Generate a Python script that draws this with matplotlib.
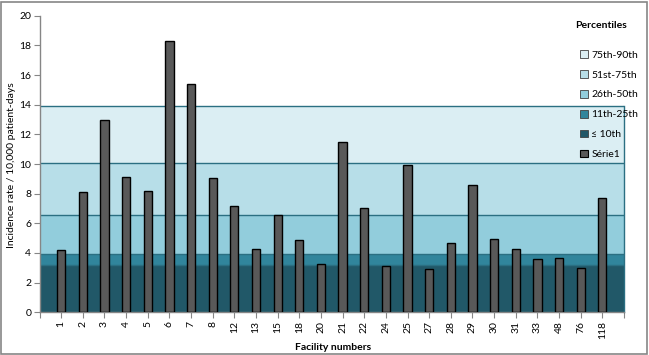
import matplotlib
matplotlib.use("Agg")
import matplotlib.pyplot as plt
from matplotlib.patches import Patch, Rectangle

plt.rcParams['font.family'] = ['Lato', 'DejaVu Sans']

facilities = ['1', '2', '3', '4', '5', '6', '7', '8', '12', '13', '15', '18', '20',
              '21', '22', '24', '25', '27', '28', '29', '30', '31', '33', '48', '76', '118']
rates = [4.18, 8.09, 12.95, 9.10, 8.16, 18.27, 15.37, 9.03, 7.15, 4.25, 6.54, 4.90, 3.24,
         11.46, 7.01, 3.10, 9.93, 2.92, 4.65, 8.56, 4.92, 4.25, 3.57, 3.64, 2.97, 7.69]

band_labels = ['≤ 10th', '11th-25th', '26th-50th', '51st-75th', '75th-90th']
band_tops = [3.2, 3.95, 6.55, 10.1, 13.9]
band_colors = ['#215868', '#31859c', '#92cddc', '#b7dee8', '#dbeef3']
edge_color = '#2b6f82'
bar_color = '#595959'

W, H = 649, 355
fig = plt.figure(figsize=(W / 100, H / 100), dpi=100)
ax = fig.add_axes([39.5 / W, 1 - 312.3 / H, (624 - 39.5) / W, (312.3 - 15.7) / H])

n = len(facilities)
xs = list(range(1, n + 1))
xmax = n + 1

# percentile bands
prev = 0
for top, col in zip(band_tops, band_colors):
    ax.fill_between([0, xmax], prev, top, color=col, lw=0, zorder=1)
    ax.plot([0, xmax], [top, top], color=edge_color, lw=1.0, zorder=2)
    prev = top
ax.plot([xmax, xmax], [0, band_tops[-1]], color=edge_color, lw=1.0, zorder=2, clip_on=False)

ax.bar(xs, rates, width=0.38, color=bar_color, edgecolor='black', linewidth=1.0, zorder=3)

ax.set_xlim(0, xmax)
ax.set_ylim(0, 20)
ax.set_yticks(range(0, 21, 2))
ax.set_xticks(list(range(0, xmax + 1)))
ax.set_xticklabels([''] + facilities + [''], rotation=90, fontsize=7.5)
ax.tick_params(axis='y', labelsize=7.5, length=4, color='#868686', pad=2)
ax.tick_params(axis='x', length=4, color='#868686', pad=2)
for s in ['top', 'right']:
    ax.spines[s].set_visible(False)
for s in ['left', 'bottom']:
    ax.spines[s].set_color('#868686')
    ax.spines[s].set_linewidth(1.0)
ax.patch.set_alpha(0)

fig.text(12 / W, 1 - 165 / H, 'Incidence rate / 10,000 patient-days', rotation=90,
         ha='center', va='center', fontsize=7.5)
fig.text(333 / W, 1 - 347 / H, 'Facility numbers', ha='center', va='center',
         fontsize=7.5, fontweight='bold')

fig.text(601.5 / W, 1 - 25.7 / H, 'Percentiles', ha='center', va='center',
         fontsize=7.5, fontweight='bold')
handles = [Patch(facecolor=c, edgecolor='#404040', linewidth=0.6) for c in band_colors[::-1]]
handles.append(Patch(facecolor=bar_color, edgecolor='black', linewidth=0.8))
labels = band_labels[::-1] + ['Série1']
leg = fig.legend(handles, labels, loc='upper left', bbox_to_anchor=(573 / W, 1 - 43 / H),
                 frameon=False, fontsize=7.5,
                 handlelength=0.75, handleheight=0.75, handletextpad=0.3,
                 labelspacing=1.0, borderpad=0.2)

fig.patches.append(Rectangle((1 / W, 1 / H), (W - 3) / W, (H - 3) / H, transform=fig.transFigure,
                             fill=False, edgecolor='#868686', linewidth=1.2))

fig.savefig('out.png', dpi=100)
